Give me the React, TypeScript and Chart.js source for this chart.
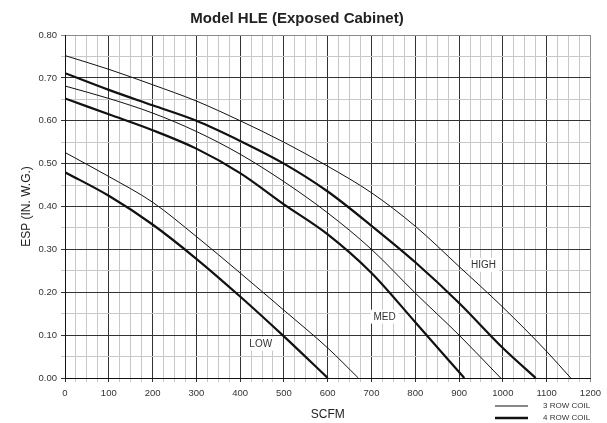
import React, { useEffect, useRef } from "react";
import { Chart, registerables } from "chart.js";

Chart.register(...registerables);

const FONT = "'Liberation Sans', Arial, Helvetica, sans-serif";

const chartTitle = "Model HLE (Exposed Cabinet)";
const xAxisTitle = "SCFM";
const yAxisTitle = "ESP (IN. W.G.)";
const legendLabels = ["3 ROW COIL", "4 ROW COIL"];

const speedLabels = ["HIGH", "MED", "LOW"];
const speedLabelScfm = [956, 730, 447];
const speedLabelEsp = [0.264, 0.143, 0.08];

// HIGH speed
const highScfm3 = [0, 100, 200, 300, 400, 500, 600, 700, 800, 900, 1000, 1100, 1155];
const highEsp3 = [0.752, 0.72, 0.684, 0.646, 0.6, 0.55, 0.494, 0.432, 0.354, 0.26, 0.165, 0.062, 0];
const highScfm4 = [0, 100, 200, 300, 400, 500, 600, 700, 800, 900, 1000, 1075];
const highEsp4 = [0.711, 0.672, 0.636, 0.6, 0.553, 0.5, 0.435, 0.355, 0.27, 0.175, 0.07, 0];

// MED speed
const medScfm3 = [0, 100, 200, 300, 400, 500, 600, 700, 800, 900, 995];
const medEsp3 = [0.681, 0.652, 0.618, 0.575, 0.522, 0.458, 0.385, 0.3, 0.198, 0.1, 0];
const medScfm4 = [0, 100, 200, 300, 400, 500, 600, 700, 800, 912];
const medEsp4 = [0.652, 0.615, 0.578, 0.535, 0.478, 0.405, 0.335, 0.245, 0.13, 0];

// LOW speed
const lowScfm3 = [0, 100, 200, 300, 400, 500, 600, 670];
const lowEsp3 = [0.526, 0.47, 0.41, 0.33, 0.245, 0.158, 0.07, 0];
const lowScfm4 = [0, 100, 200, 300, 400, 500, 600];
const lowEsp4 = [0.48, 0.425, 0.358, 0.278, 0.19, 0.097, 0];

const toPoints = (xs: number[], ys: number[]) => xs.map((x, i) => ({ x, y: ys[i] }));

const isMultiple = (v: number, step: number) => {
  const r = v / step;
  return Math.abs(r - Math.round(r)) < 1e-6;
};

const gridColor = (v: number, major: number, edge: number) => {
  if (Math.abs(v - edge) < 1e-6) return "#8a8a8a";
  return isMultiple(v, major) ? "#333333" : "#c8c8c8";
};

const speedLabelPlugin = {
  id: "speedLabels",
  afterDatasetsDraw(chart: any) {
    const { ctx, scales } = chart;
    ctx.save();
    ctx.font = `10px ${FONT}`;
    ctx.textAlign = "center";
    ctx.textBaseline = "middle";
    speedLabels.forEach((t, i) => {
      const px = scales.x.getPixelForValue(speedLabelScfm[i]);
      const py = scales.y.getPixelForValue(speedLabelEsp[i]);
      const w = ctx.measureText(t).width;
      ctx.fillStyle = "#ffffff";
      ctx.fillRect(px - w / 2 - 3, py - 7, w + 6, 14);
      ctx.fillStyle = "#333333";
      ctx.fillText(t, px, py + 0.5);
    });
    ctx.restore();
  },
};

const legendPlugin = {
  id: "coilLegend",
  afterDraw(chart: any) {
    const { ctx } = chart;
    ctx.save();
    ctx.font = `8px ${FONT}`;
    ctx.textAlign = "left";
    ctx.textBaseline = "middle";
    const widths = [1, 2.5];
    const ys = [406, 418];
    legendLabels.forEach((t, i) => {
      ctx.strokeStyle = "#111";
      ctx.lineWidth = widths[i];
      ctx.beginPath();
      ctx.moveTo(495, ys[i]);
      ctx.lineTo(528, ys[i]);
      ctx.stroke();
      ctx.fillStyle = "#333";
      ctx.fillText(t, 543, ys[i]);
    });
    ctx.restore();
  },
};

export default function App() {
  const ref = useRef<HTMLCanvasElement | null>(null);

  useEffect(() => {
    if (!ref.current) return;
    const thin = 1;
    const thick = 2.2;
    const mk = (xs: number[], ys: number[], w: number, label: string) => ({
      label,
      data: toPoints(xs, ys),
      borderColor: "#111",
      borderWidth: w,
      pointRadius: 0,
      fill: false,
      cubicInterpolationMode: "monotone" as const,
    });
    const chart = new Chart(ref.current, {
      type: "line",
      data: {
        datasets: [
          mk(highScfm3, highEsp3, thin, "HIGH 3 ROW"),
          mk(highScfm4, highEsp4, thick, "HIGH 4 ROW"),
          mk(medScfm3, medEsp3, thin, "MED 3 ROW"),
          mk(medScfm4, medEsp4, thick, "MED 4 ROW"),
          mk(lowScfm3, lowEsp3, thin, "LOW 3 ROW"),
          mk(lowScfm4, lowEsp4, thick, "LOW 4 ROW"),
        ],
      },
      options: {
        responsive: false,
        animation: false,
        layout: { padding: { left: 0, right: 13, top: 0, bottom: 0 } },
        plugins: {
          legend: { display: false },
          tooltip: { enabled: false },
          title: {
            display: true,
            text: chartTitle,
            color: "#222",
            font: { family: FONT, size: 15, weight: "bold" },
            padding: { top: 10, bottom: 7 },
          },
        },
        scales: {
          x: {
            type: "linear",
            min: 0,
            max: 1200,
            ticks: {
              stepSize: 25,
              autoSkip: false,
              maxRotation: 0,
              padding: 6,
              color: "#333",
              font: { family: FONT, size: 9.5 },
              callback: (v: any) => (isMultiple(Number(v), 100) ? String(v) : ""),
            },
            grid: {
              color: (c: any) => (c.tick ? gridColor(c.tick.value, 100, 1200) : "#c8c8c8"),
              tickLength: 4,
              lineWidth: 1,
            },
            border: { color: "#111", width: 1 },
            title: {
              display: true,
              text: xAxisTitle,
              color: "#222",
              font: { family: FONT, size: 12 },
              padding: { top: 0, bottom: 1 },
            },
            afterFit: (s: any) => {
              s.height = 45;
            },
          },
          y: {
            type: "linear",
            min: 0,
            max: 0.8,
            ticks: {
              stepSize: 0.05,
              autoSkip: false,
              padding: 4,
              color: "#333",
              font: { family: FONT, size: 9.5 },
              callback: (v: any) => (isMultiple(Number(v), 0.1) ? Number(v).toFixed(2) : ""),
            },
            grid: {
              color: (c: any) => (c.tick ? gridColor(c.tick.value, 0.1, 0.8) : "#c8c8c8"),
              tickLength: 4,
              lineWidth: 1,
            },
            border: { color: "#111", width: 1 },
            title: {
              display: true,
              text: yAxisTitle,
              color: "#222",
              font: { family: FONT, size: 12 },
              padding: { top: 19, bottom: 0 },
            },
            afterFit: (s: any) => {
              s.width = 65;
            },
          },
        },
      },
      plugins: [speedLabelPlugin, legendPlugin],
    } as any);
    return () => chart.destroy();
  }, []);

  return (
    <div style={{ position: "fixed", left: 0, top: 0, width: 607, height: 423, background: "#fff" }}>
      <canvas ref={ref} width={607} height={423} style={{ display: "block" }} />
    </div>
  );
}
